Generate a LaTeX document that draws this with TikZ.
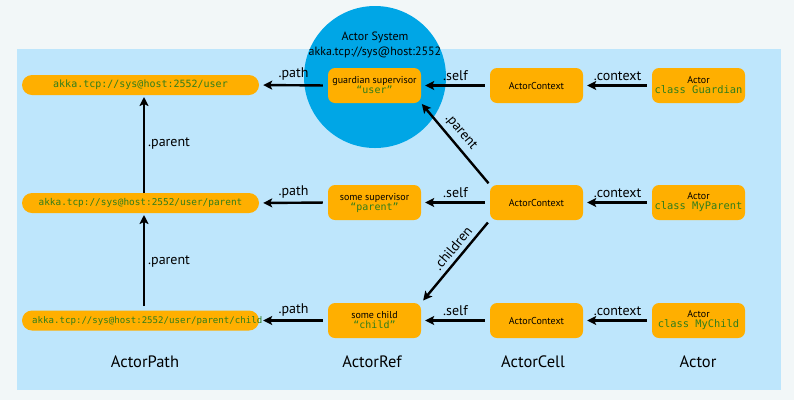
\documentclass[tikz,border=0pt]{standalone}
\usepackage{fontspec}
\setmainfont{PT Sans}
\setmonofont{DejaVu Sans Mono}
\usetikzlibrary{arrows.meta}
\definecolor{pagebg}{HTML}{F2F7F8}
\definecolor{panel}{HTML}{BEE6FC}
\definecolor{sysblue}{HTML}{00A6E6}
\definecolor{orng}{HTML}{FFAF00}
\definecolor{codegreen}{HTML}{2F7D1C}
\tikzset{
  pill/.style={fill=orng, rounded corners=10pt, minimum width=237pt, minimum height=20pt, inner sep=0pt, text=codegreen},
  obox/.style={fill=orng, rounded corners=7pt, minimum width=93pt, minimum height=35pt, inner sep=0pt, align=center, font=\fontsize{10}{11}\selectfont},
  link/.style={line width=2.4pt, -{Stealth[length=9pt,width=9pt,inset=2pt]}, shorten <=5pt, shorten >=4pt},
  lbl/.style={font=\fontsize{14}{16}\selectfont, inner sep=1pt},
  colname/.style={font=\fontsize{16.5}{19}\selectfont},
}
\newcommand{\gcode}[1]{\textcolor{codegreen}{\ttfamily #1}}
\begin{document}
\begin{tikzpicture}[x=1pt,y=-1pt]
\useasboundingbox (0,0) rectangle (794,400);
\fill[pagebg] (0,0) rectangle (794,400);
\fill[panel] (17,49) rectangle (781,390);
\fill[sysblue] (375,77) circle (71);
\node[font=\fontsize{12}{14.5}\selectfont, align=center] (sys) at (375,45) {Actor System\\akka.tcp://sys@host:2552};

% ActorPath pills
\node[pill, font=\fontsize{10}{12}\ttfamily] (p1) at (140.5,85) {akka.tcp://sys@host:2552/user};
\node[pill, font=\fontsize{9.4}{12}\ttfamily] (p2) at (140.5,203) {akka.tcp://sys@host:2552/user/parent};
\node[pill, minimum width=237pt] (p3) at (140.5,320.5) {};
\node[font=\fontsize{9.1}{12}\ttfamily, text=codegreen, anchor=west, inner sep=0pt] (p3t) at (32,320.5) {akka.tcp://sys@host:2552/user/parent/child};

% ActorRef boxes
\node[obox] (r1) at (374.5,85.5) {guardian supervisor\\[-1pt]\gcode{\fontsize{10}{11}\selectfont “user”}};
\node[obox] (r2) at (374.5,202.5) {some supervisor\\[-1pt]\gcode{\fontsize{10}{11}\selectfont “parent”}};
\node[obox] (r3) at (374.5,320.5) {some child\\[-1pt]\gcode{\fontsize{10}{11}\selectfont “child”}};

% ActorCell boxes
\node[obox] (c1) at (536.5,85.5) {ActorContext};
\node[obox] (c2) at (536.5,202.5) {ActorContext};
\node[obox] (c3) at (536.5,320.5) {ActorContext};

% Actor boxes
\node[obox] (a1) at (698.5,85.5) {Actor\\[-1pt]\gcode{\fontsize{10.4}{12}\selectfont class Guardian}};
\node[obox] (a2) at (698.5,202.5) {Actor\\[-1pt]\gcode{\fontsize{10.4}{12}\selectfont class MyParent}};
\node[obox] (a3) at (698.5,320.5) {Actor\\[-1pt]\gcode{\fontsize{10.4}{12}\selectfont class MyChild}};

% horizontal arrows
\foreach \i in {1,2,3}{
  \draw[link] (r\i.west) -- node[lbl, above=2.5pt] {.path} (p\i.east);
  \draw[link] (c\i.west) -- node[lbl, above=2.5pt] {.self} (r\i.east);
  \draw[link] (a\i.west) -- node[lbl, above=2.5pt] {.context} (c\i.east);
}
% parent arrows in path column
\coordinate (p1b) at (144,95);
\coordinate (p2t) at (144,193);
\coordinate (p2b) at (144,213);
\coordinate (p3top) at (144,310);
\draw[link, shorten <=0pt, shorten >=2pt] (p2t) -- node[lbl, right=2pt] {.parent} (p1b);
\draw[link, shorten <=4pt, shorten >=2pt] (p3top) -- node[lbl, right=2pt] {.parent} (p2b);

% diagonal arrows
\draw[link, shorten <=2pt, shorten >=1pt] (c2.north west) -- node[lbl, sloped, above=3.5pt, pos=0.55] {.parent} (r1.south east);
\draw[link, shorten <=3pt, shorten >=3pt] (c2.south west) -- node[lbl, sloped, above=3.5pt, pos=0.42] {.children} (r3.north east);

% column names
\node[colname] (n1) at (145,362) {ActorPath};
\node[colname] (n2) at (372,362) {ActorRef};
\node[colname] (n3) at (533,362) {ActorCell};
\node[colname] (n4) at (698,362) {Actor};
\end{tikzpicture}
\end{document}
